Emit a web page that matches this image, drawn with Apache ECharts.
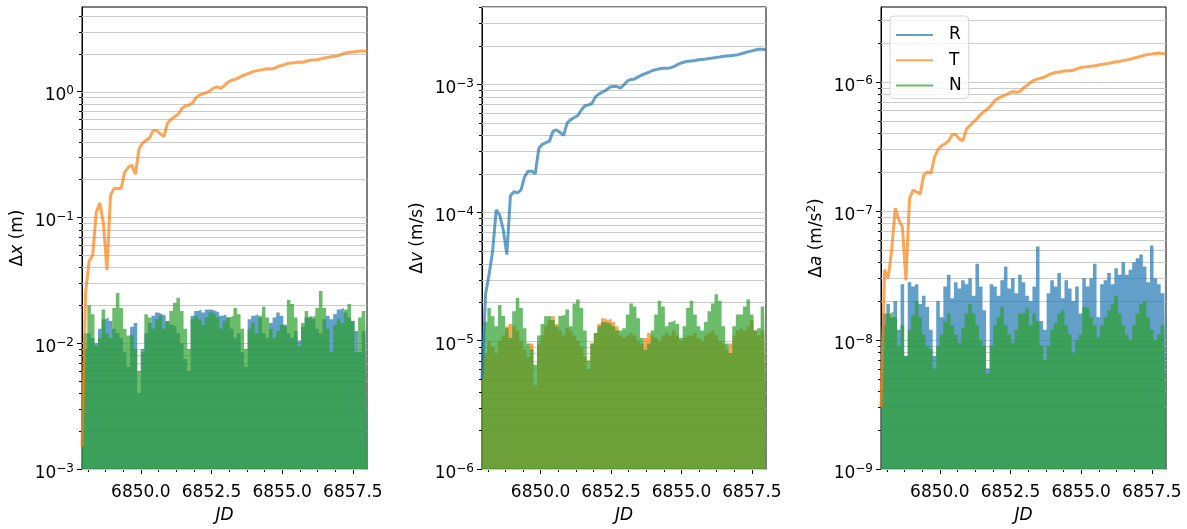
<!DOCTYPE html>
<html>
<head>
<meta charset="utf-8">
<script src="https://cdn.jsdelivr.net/npm/echarts@6/dist/echarts.min.js"></script>
<style>
  html, body { margin: 0; padding: 0; background: #fff; }
  #chart { width: 1187px; height: 529px; }
</style>
</head>
<body>
<div id="chart"></div>
<script>
// Sampling of the propagated orbit (Julian date offsets)
const JD_START = 6847.92;
const JD_STEP = 0.126;
const JD_COUNT = 81;
const JD_END = 6858.0;
const jd = [];
for (let i = 0; i < JD_COUNT; i++) jd.push(+(JD_START + i * JD_STEP).toFixed(3));

const X_TICKS = [6850.0, 6852.5, 6855.0, 6857.5];
const X_MINOR_TICKS = [6848.125, 6848.75, 6849.375, 6850.625, 6851.25, 6851.875,
  6853.125, 6853.75, 6854.375, 6855.625, 6856.25, 6856.875];

// Position differences, metres
const dxR = [0.005,0.009,0.012,0.011,0.010,0.013,0.0155,0.016,0.015,0.013,
  0.012,0.011,0.0085,0.0065,0.0135,0.0145,0.004,0.009,0.012,0.0145,
  0.0165,0.0175,0.017,0.0165,0.015,0.014,0.0135,0.012,0.010,0.0075,
  0.006,0.0165,0.018,0.0185,0.0175,0.0185,0.0185,0.018,0.0175,0.0165,
  0.017,0.016,0.013,0.011,0.012,0.0085,0.0065,0.0155,0.0165,0.017,
  0.016,0.012,0.011,0.0145,0.016,0.0175,0.0165,0.014,0.012,0.011,
  0.0125,0.0105,0.0135,0.016,0.0165,0.0155,0.013,0.012,0.0155,0.0165,
  0.0155,0.017,0.0185,0.019,0.0175,0.016,0.015,0.0125,0.0085,0.0125,
  0.0155];
const dxT = [0.0015,0.025,0.045,0.05,0.11,0.13,0.09,0.038,0.15,0.17,
  0.17,0.17,0.23,0.25,0.26,0.22,0.35,0.39,0.41,0.43,
  0.49,0.49,0.46,0.44,0.56,0.60,0.63,0.66,0.73,0.77,
  0.78,0.81,0.89,0.94,0.96,0.98,1.02,1.07,1.09,1.06,
  1.12,1.19,1.23,1.25,1.29,1.33,1.37,1.40,1.44,1.46,
  1.48,1.50,1.52,1.51,1.53,1.58,1.61,1.64,1.68,1.69,
  1.70,1.72,1.71,1.74,1.77,1.78,1.79,1.82,1.85,1.87,
  1.89,1.91,1.93,1.98,2.03,2.05,2.06,2.08,2.10,2.10,
  2.09];
const dxN = [0.004,0.012,0.020,0.017,0.0095,0.011,0.0185,0.012,0.011,0.019,
  0.025,0.019,0.013,0.0115,0.0118,0.009,0.006,0.0085,0.017,0.016,
  0.013,0.0155,0.0165,0.013,0.015,0.018,0.021,0.023,0.018,0.013,
  0.009,0.0155,0.0165,0.0155,0.014,0.016,0.0175,0.017,0.016,0.013,
  0.015,0.016,0.0165,0.019,0.017,0.013,0.009,0.013,0.0145,0.012,
  0.0165,0.0195,0.016,0.013,0.011,0.0125,0.014,0.0135,0.022,0.0205,
  0.016,0.0095,0.0145,0.018,0.016,0.0165,0.019,0.026,0.019,0.013,
  0.0085,0.014,0.0155,0.0145,0.0185,0.0205,0.015,0.0085,0.016,0.018,
  0.018];

// Velocity differences, m/s
const dvR = [5e-6,2.3e-5,3.3e-5,5e-5,1.05e-4,9.5e-5,7.3e-5,4.7e-5,1.35e-4,1.45e-4,
  1.42e-4,1.5e-4,1.9e-4,2.1e-4,2.1e-4,2.0e-4,3.15e-4,3.4e-4,3.5e-4,3.6e-4,
  4.3e-4,4.4e-4,4.2e-4,4.0e-4,5.0e-4,5.3e-4,5.5e-4,5.7e-4,6.3e-4,6.8e-4,
  6.9e-4,7.1e-4,8.0e-4,8.4e-4,8.7e-4,9.0e-4,9.5e-4,9.6e-4,9.6e-4,9.3e-4,
  9.9e-4,1.06e-3,1.09e-3,1.10e-3,1.14e-3,1.18e-3,1.21e-3,1.24e-3,1.28e-3,1.30e-3,
  1.32e-3,1.33e-3,1.33e-3,1.34e-3,1.37e-3,1.42e-3,1.46e-3,1.49e-3,1.51e-3,1.52e-3,
  1.53e-3,1.55e-3,1.56e-3,1.57e-3,1.59e-3,1.60e-3,1.62e-3,1.63e-3,1.65e-3,1.66e-3,
  1.67e-3,1.68e-3,1.70e-3,1.73e-3,1.76e-3,1.79e-3,1.82e-3,1.85e-3,1.87e-3,1.87e-3,
  1.86e-3];
const dvT = [5e-6,8e-6,1.0e-5,0.9e-5,0.8e-5,1.0e-5,1.1e-5,1.3e-5,1.35e-5,1.3e-5,
  1.2e-5,1.0e-5,0.85e-5,0.75e-5,0.95e-5,0.45e-5,0.95e-5,1.1e-5,1.3e-5,1.45e-5,
  1.55e-5,1.35e-5,1.2e-5,1.1e-5,1.25e-5,1.2e-5,1.1e-5,1.0e-5,0.9e-5,0.75e-5,
  0.6e-5,0.95e-5,1.15e-5,1.35e-5,1.5e-5,1.45e-5,1.5e-5,1.4e-5,1.3e-5,1.1e-5,
  1.05e-5,1.1e-5,1.15e-5,1.1e-5,1.0e-5,0.95e-5,1.05e-5,1.15e-5,1.1e-5,1.05e-5,
  1.0e-5,1.1e-5,1.15e-5,1.1e-5,1.2e-5,1.1e-5,1.0e-5,1.05e-5,1.1e-5,1.1e-5,
  1.15e-5,1.05e-5,1.0e-5,1.1e-5,1.15e-5,1.2e-5,1.1e-5,1.0e-5,0.95e-5,0.85e-5,
  0.95e-5,1.1e-5,1.2e-5,1.25e-5,1.2e-5,1.3e-5,1.45e-5,1.2e-5,1.1e-5,1.2e-5,
  1.15e-5];
const dvN = [6e-6,1.4e-5,1.8e-5,1.55e-5,1.3e-5,1.9e-5,1.56e-5,1.25e-5,1.05e-5,1.7e-5,
  2.15e-5,1.8e-5,1.25e-5,0.95e-5,0.86e-5,0.65e-5,1.1e-5,1.35e-5,1.55e-5,1.56e-5,
  1.45e-5,1.3e-5,1.56e-5,1.6e-5,1.75e-5,1.3e-5,1.95e-5,2.1e-5,1.8e-5,1.2e-5,
  0.7e-5,0.95e-5,1.15e-5,1.3e-5,1.4e-5,1.38e-5,1.35e-5,1.3e-5,1.2e-5,1.2e-5,
  1.25e-5,1.6e-5,1.95e-5,1.85e-5,1.5e-5,1.05e-5,0.85e-5,0.95e-5,1.2e-5,1.6e-5,
  2.05e-5,1.85e-5,1.3e-5,1.4e-5,1.45e-5,1.35e-5,1.05e-5,1.3e-5,1.8e-5,2.05e-5,
  1.6e-5,1.3e-5,1.2e-5,1.4e-5,1.7e-5,1.95e-5,2.3e-5,2.05e-5,1.3e-5,0.95e-5,
  0.8e-5,1.3e-5,1.6e-5,1.6e-5,1.85e-5,2.1e-5,1.6e-5,1.2e-5,1.25e-5,1.85e-5,
  1.75e-5];

// Acceleration differences, m/s^2
const daR = [1.0e-8,1.6e-8,1.9e-8,1.5e-8,2.0e-8,1.2e-8,2.7e-8,0.75e-8,2.8e-8,2.6e-8,
  2.7e-8,1.9e-8,2.2e-8,1.8e-8,1.2e-8,0.75e-8,2.0e-8,1.5e-8,2.6e-8,3.2e-8,
  2.1e-8,2.8e-8,2.5e-8,2.9e-8,2.7e-8,3.0e-8,2.2e-8,3.9e-8,2.6e-8,1.7e-8,
  0.6e-8,2.7e-8,2.6e-8,2.2e-8,2.9e-8,3.7e-8,2.5e-8,3.0e-8,2.3e-8,3.2e-8,
  2.8e-8,2.2e-8,2.0e-8,2.6e-8,5.3e-8,1.4e-8,1.2e-8,2.3e-8,2.9e-8,2.6e-8,
  3.3e-8,2.1e-8,2.9e-8,2.5e-8,2.0e-8,2.6e-8,1.6e-8,3.0e-8,2.6e-8,3.0e-8,
  3.9e-8,1.5e-8,2.7e-8,2.9e-8,3.3e-8,2.7e-8,3.6e-8,3.2e-8,4.0e-8,3.2e-8,
  3.5e-8,4.0e-8,4.3e-8,4.6e-8,3.7e-8,2.8e-8,5.4e-8,3.0e-8,2.7e-8,2.3e-8,
  3.6e-8];
const daT = [3e-9,3.5e-8,3.0e-8,5.0e-8,1.05e-7,8.5e-8,7.5e-8,2.9e-8,1.25e-7,1.45e-7,
  1.4e-7,1.35e-7,1.9e-7,2.0e-7,1.95e-7,2.6e-7,3.0e-7,3.2e-7,3.3e-7,3.5e-7,
  3.9e-7,3.9e-7,3.6e-7,3.5e-7,4.3e-7,4.6e-7,4.9e-7,5.2e-7,5.6e-7,5.9e-7,
  6.2e-7,6.6e-7,7.2e-7,7.5e-7,7.7e-7,7.9e-7,8.2e-7,8.4e-7,8.3e-7,8.4e-7,
  9.0e-7,9.4e-7,9.9e-7,1.03e-6,1.05e-6,1.07e-6,1.09e-6,1.13e-6,1.16e-6,1.18e-6,
  1.19e-6,1.21e-6,1.22e-6,1.22e-6,1.23e-6,1.26e-6,1.29e-6,1.30e-6,1.31e-6,1.32e-6,
  1.33e-6,1.35e-6,1.36e-6,1.38e-6,1.39e-6,1.41e-6,1.43e-6,1.44e-6,1.46e-6,1.48e-6,
  1.50e-6,1.53e-6,1.55e-6,1.58e-6,1.61e-6,1.63e-6,1.64e-6,1.66e-6,1.67e-6,1.66e-6,
  1.65e-6];
const daN = [0.8e-8,1.3e-8,1.6e-8,1.65e-8,1.5e-8,0.9e-8,1.3e-8,0.75e-8,1.2e-8,1.55e-8,
  2.0e-8,1.5e-8,1.1e-8,0.9e-8,0.85e-8,0.6e-8,0.9e-8,1.1e-8,1.4e-8,1.6e-8,
  1.3e-8,1.1e-8,0.95e-8,1.25e-8,1.6e-8,1.9e-8,1.6e-8,1.3e-8,1.0e-8,0.9e-8,
  0.55e-8,0.9e-8,1.3e-8,1.5e-8,1.8e-8,1.3e-8,1.1e-8,0.95e-8,1.2e-8,1.6e-8,
  1.6e-8,1.75e-8,1.3e-8,1.6e-8,1.4e-8,0.9e-8,0.7e-8,0.9e-8,1.2e-8,1.35e-8,
  1.6e-8,1.7e-8,1.3e-8,1.1e-8,0.8e-8,1.0e-8,1.1e-8,1.8e-8,1.75e-8,1.5e-8,
  1.3e-8,1.05e-8,1.3e-8,1.5e-8,1.7e-8,1.9e-8,2.2e-8,1.6e-8,1.3e-8,1.1e-8,
  1.0e-8,1.3e-8,1.6e-8,1.9e-8,2.0e-8,1.5e-8,1.2e-8,1.0e-8,1.1e-8,1.3e-8,
  1.2e-8];

// y ranges of the three panels
const Y_MIN = [1e-3, 1e-6, 1e-9];
const Y_MAX = [4.7, 4.0e-3, 3.8e-6];
const Y_NAMES = [
  '{n|Δ}{i|x}{n| (m)}',
  '{n|Δ}{i|v}{n| (m/s)}',
  '{n|Δ}{i|a}{n| (m/s}{s|2}{n|)}'
];

const FONT = 'DejaVu Sans';
const COLOR_R = 'rgba(31,119,180,0.7)';
const COLOR_T = 'rgba(255,127,14,0.7)';
const COLOR_N = 'rgba(44,160,44,0.7)';
const GRID_COLOR = '#cacaca';

const PANELS = [
  { left: 82, width: 285, R: dxR, T: dxT, N: dxN, curve: 'T' },
  { left: 482, width: 284, R: dvR, T: dvT, N: dvN, curve: 'R' },
  { left: 881, width: 285, R: daR, T: daT, N: daN, curve: 'T' }
];

function decadeTicks(min, max) {
  const out = [];
  for (let e = Math.round(Math.log10(min)); Math.pow(10, e) <= max * 1.0001; e++) {
    out.push(Number('1e' + e));
  }
  return out;
}
function minorTicks(min, max) {
  const out = [];
  for (let e = Math.round(Math.log10(min)); Math.pow(10, e) <= max; e++) {
    for (let m = 2; m <= 9; m++) {
      const v = Number(m + 'e' + e);
      if (v <= max * 1.0001) out.push(v);
    }
  }
  return out;
}
function powLabel(v) {
  const e = Math.round(Math.log10(v));
  return '{b|10}{s|' + (e < 0 ? '\u2212' + (-e) : String(e)) + '}';
}

// horizontal gridline (and a short outer tick for sub-decade values)
function renderGridline(params, api) {
  const cs = params.coordSys;
  const y = Math.round(api.coord([api.value(0), api.value(1)])[1]) + 0.5;
  const children = [{
    type: 'line',
    shape: { x1: cs.x, y1: y, x2: cs.x + cs.width, y2: y },
    style: { stroke: GRID_COLOR, lineWidth: 1 }
  }];
  if (api.value(2) === 1) {
    children.push({
      type: 'line',
      shape: { x1: cs.x - 3, y1: y, x2: cs.x, y2: y },
      style: { stroke: '#000', lineWidth: 1 }
    });
  }
  return { type: 'group', children: children };
}

const grids = [], xAxes = [], yAxes = [], series = [];

PANELS.forEach((p, k) => {
  grids.push({
    left: p.left, top: 7, width: p.width, height: 468,
    show: true, borderColor: '#000', borderWidth: 1, backgroundColor: '#fff'
  });
  const majors = decadeTicks(Y_MIN[k], Y_MAX[k]);
  const minors = minorTicks(Y_MIN[k], Y_MAX[k]);

  xAxes.push({
    type: 'value', gridIndex: k, min: JD_START, max: JD_END, position: 'bottom',
    axisLine: { show: true, lineStyle: { color: '#000', width: 1 } },
    axisTick: { show: true, length: 5, lineStyle: { color: '#000', width: 1 }, customValues: X_TICKS },
    axisLabel: {
      customValues: X_TICKS, formatter: v => v.toFixed(1), margin: 15,
      fontSize: 17, fontFamily: FONT, color: '#000'
    },
    splitLine: { show: false },
    name: 'JD', nameLocation: 'middle', nameGap: 38,
    nameTextStyle: { fontSize: 17, fontFamily: FONT, fontStyle: 'italic', color: '#000' }
  });
  yAxes.push({
    type: 'log', logBase: 10, gridIndex: k, min: Y_MIN[k], max: Y_MAX[k], position: 'left',
    axisLine: { show: true, lineStyle: { color: '#000', width: 1 } },
    axisTick: { show: true, length: 5, lineStyle: { color: '#000', width: 1 }, customValues: majors },
    axisLabel: {
      customValues: majors, formatter: powLabel, margin: 8, color: '#000',
      padding: [9, 0, 0, 0],
      rich: {
        b: { fontSize: 17, fontFamily: FONT, color: '#000', lineHeight: 22 },
        s: { fontSize: 12, fontFamily: FONT, color: '#000', verticalAlign: 'top' }
      }
    },
    splitLine: { show: false },
    name: Y_NAMES[k], nameLocation: 'middle', nameRotate: 90, nameGap: 53,
    nameTextStyle: {
      color: '#000',
      rich: {
        n: { fontSize: 17, fontFamily: FONT, color: '#000', lineHeight: 22 },
        i: { fontSize: 17, fontFamily: FONT, fontStyle: 'italic', color: '#000', lineHeight: 22 },
        s: { fontSize: 12, fontFamily: FONT, color: '#000', verticalAlign: 'top' }
      }
    }
  });

  // gridlines at every decade and sub-decade value
  series.push({
    type: 'custom', name: 'grid' + k, xAxisIndex: k, yAxisIndex: k,
    coordinateSystem: 'cartesian2d', clip: false, silent: true, animation: false, z: 1,
    renderItem: renderGridline,
    data: majors.map(v => [JD_START, v, 0]).concat(minors.map(v => [JD_START, v, 1]))
  });

  const comps = [['R', COLOR_R], ['T', COLOR_T], ['N', COLOR_N]];
  comps.forEach(([name, color]) => {
    const values = p[name];
    const s = {
      type: 'line', name: name, xAxisIndex: k, yAxisIndex: k,
      data: jd.map((t, i) => [t, values[i]]),
      showSymbol: false, symbol: 'none', silent: true, animation: false,
      itemStyle: { color: color }, z: 2
    };
    if (name === p.curve) {
      s.lineStyle = { color: color, width: 3 };
    } else {
      s.step = 'middle';
      s.lineStyle = { width: 0, color: color };
      s.areaStyle = { color: color, origin: 'start', opacity: 1 };
    }
    series.push(s);
  });
});

// minor x tick marks on extra, label-less axes laid over each panel
PANELS.forEach((p, k) => {
  xAxes.push({
    type: 'value', gridIndex: k, min: JD_START, max: JD_END, position: 'bottom',
    axisLine: { show: false },
    axisTick: { show: true, length: 3, lineStyle: { color: '#000', width: 1 }, customValues: X_MINOR_TICKS },
    axisLabel: { show: false }, splitLine: { show: false }
  });
});

const chart = echarts.init(document.getElementById('chart'), null, { renderer: 'canvas' });
chart.setOption({
  animation: false,
  backgroundColor: '#fff',
  grid: grids,
  xAxis: xAxes,
  yAxis: yAxes,
  legend: {
    data: [
      { name: 'R', itemStyle: { color: COLOR_R } },
      { name: 'T', itemStyle: { color: COLOR_T } },
      { name: 'N', itemStyle: { color: COLOR_N } }
    ],
    orient: 'vertical', left: 890, top: 16,
    icon: 'rect', itemWidth: 37, itemHeight: 2, itemGap: 5.3,
    padding: [9, 7, 3, 6],
    textStyle: { fontSize: 17, fontFamily: FONT, color: '#000', lineHeight: 20, padding: [0, 0, 0, 11] },
    backgroundColor: 'rgba(255,255,255,0.8)', borderColor: '#d4d4d4', borderWidth: 1, borderRadius: 4,
    selectedMode: false
  },
  series: series
});
</script>
</body>
</html>
